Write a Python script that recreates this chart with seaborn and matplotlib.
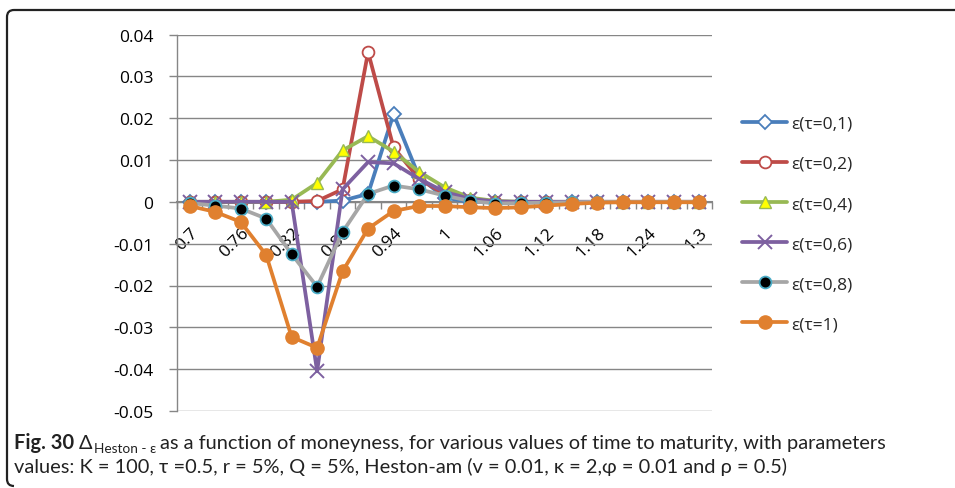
import numpy as np
import pandas as pd
import matplotlib
matplotlib.use("Agg")
import matplotlib.pyplot as plt
import seaborn as sns
from matplotlib.path import Path
from matplotlib.patches import PathPatch

# ---------------- data ----------------
moneyness = ["0.7", "0.73", "0.76", "0.79", "0.82", "0.85", "0.88", "0.91", "0.94", "0.97",
             "1", "1.03", "1.06", "1.09", "1.12", "1.15", "1.18", "1.21", "1.24", "1.27", "1.3"]
series_names = ["ε(τ=0,1)", "ε(τ=0,2)", "ε(τ=0,4)", "ε(τ=0,6)", "ε(τ=0,8)", "ε(τ=1)"]

eps_01 = [0, 0, 0, 0, 0, 0, 0.0003, 0.0019, 0.021, 0.006, 0.001, 0,
          0, 0, 0, 0, 0, 0, 0, 0, 0]
eps_02 = [0, 0, 0, 0, 0, 0.0002, 0.003, 0.0358, 0.013, 0.0055, 0.0018, 0.0004,
          0, 0, 0, 0, 0, 0, 0, 0, 0]
eps_04 = [0, 0, 0, 0, 0.0005, 0.0045, 0.0123, 0.0157, 0.012, 0.0072, 0.0035, 0.001,
          0.0002, 0, 0, 0, 0, 0, 0, 0, 0]
eps_06 = [0, 0, 0, 0, 0, -0.0405, 0.003, 0.0095, 0.0092, 0.0055, 0.0024, 0.0007,
          0.0001, 0, 0, 0, 0, 0, 0, 0, 0]
eps_08 = [-0.0003, -0.0009, -0.0016, -0.004, -0.0125, -0.0203, -0.0072, 0.0019, 0.0039, 0.003,
          0.0015, 0.0002, -0.0004, -0.0003, -0.0002, -0.0001, 0, 0, 0, 0, 0]
eps_1 = [-0.001, -0.0024, -0.0048, -0.0127, -0.0323, -0.0349, -0.0166, -0.0064, -0.0022, -0.001,
         -0.001, -0.0013, -0.0015, -0.0013, -0.0009, -0.0005, -0.0002, -0.0001, -0.0001, -0.0001, -0.0001]

y_ticks = [0.04, 0.03, 0.02, 0.01, 0, -0.01, -0.02, -0.03, -0.04, -0.05]
y_tick_labels = ["0.04", "0.03", "0.02", "0.01", "0", "-0.01", "-0.02", "-0.03", "-0.04", "-0.05"]

cap_bold = "Fig. 30"
cap_delta = "Δ"
cap_sub = "Heston - ε"
cap_rest1 = "as a function of moneyness, for various values of time to maturity, with parameters"
caption_line2 = "values: K = 100, τ =0.5, r = 5%, Q = 5%, Heston-am (v = 0.01, κ = 2,φ = 0.01 and ρ = 0.5)"

# ---------------- style ----------------
sns.set_theme(style="white")
plt.rcParams["font.family"] = ["Open Sans", "DejaVu Sans"]

GRID = "#868686"
styles = [
    dict(color="#4A7EBB", marker="D", markersize=7, markerfacecolor="white", markeredgecolor="#4A7EBB", markeredgewidth=1.3),
    dict(color="#BE4B48", marker="o", markersize=8.5, markerfacecolor="white", markeredgecolor="#BE4B48", markeredgewidth=1.3),
    dict(color="#98B954", marker="^", markersize=8.5, markerfacecolor="#FFFF00", markeredgecolor="#98B954", markeredgewidth=1.0),
    dict(color="#7D60A0", marker="x", markersize=10, markerfacecolor="#7D60A0", markeredgecolor="#7D60A0", markeredgewidth=1.4),
    dict(color="#A6A6A6", marker="o", markersize=8.5, markerfacecolor="black", markeredgecolor="#4BACC6", markeredgewidth=1.3),
    dict(color="#E0802F", marker="o", markersize=9.5, markerfacecolor="#E0802F", markeredgecolor="#E0802F", markeredgewidth=1.0),
]
all_series = [eps_01, eps_02, eps_04, eps_06, eps_08, eps_1]

fig = plt.figure(figsize=(9.55, 4.89), dpi=100)
ax = fig.add_axes([177 / 955, 1 - 412 / 489, (712 - 177) / 955, (412 - 35.5) / 489])

pos = np.arange(len(moneyness))
for name, vals, st in zip(series_names, all_series, styles):
    sns.lineplot(x=pos, y=vals, ax=ax, label=name, linewidth=2.7, zorder=3, **st)

ax.set_xlim(-0.5, len(moneyness) - 0.5)
ax.set_ylim(-0.05, 0.04)

# y axis
ax.set_yticks(y_ticks)
ax.set_yticklabels(y_tick_labels)
ax.yaxis.grid(True, color=GRID, linewidth=1.0)
ax.xaxis.grid(False)
ax.tick_params(axis="y", length=6, width=1, color=GRID, direction="out", pad=11,
               labelsize=12.5, labelcolor="black", left=True)

# x axis at y = 0
for s in ["top", "right"]:
    ax.spines[s].set_visible(False)
ax.spines["left"].set_color(GRID)
ax.spines["left"].set_linewidth(1.0)
ax.spines["bottom"].set_position(("data", 0))
ax.spines["bottom"].set_color(GRID)
ax.spines["bottom"].set_linewidth(1.5)
ax.spines["bottom"].set_zorder(2)

ax.set_xticks(pos[::2])
ax.set_xticklabels(moneyness[::2])
ax.set_xticks(np.arange(-0.5, len(moneyness), 1.0), minor=True)
ax.tick_params(axis="x", which="major", length=0, pad=16, labelsize=12.5, labelcolor="black", bottom=True)
ax.tick_params(axis="x", which="minor", length=5, width=1, color=GRID, direction="out", bottom=True)
for lbl in ax.get_xticklabels():
    lbl.set_rotation(45)
    lbl.set_ha("right")
    lbl.set_rotation_mode("anchor")
ax.set_xlabel("")
ax.set_ylabel("")
ax.patch.set_alpha(0)

# legend
handles, labels = ax.get_legend_handles_labels()
if ax.get_legend() is not None:
    ax.get_legend().remove()
fig.legend(handles, labels, loc="center left", bbox_to_anchor=(742 / 955, 1 - 225 / 489),
           frameon=False, fontsize=12.5, handlelength=2.6, handletextpad=0.25,
           labelspacing=1.38, borderaxespad=0, borderpad=0)

# border (top + left with rounded corners)
W, H = 955.0, 489.0
def fx(px): return px / W
def fy(py): return 1 - py / H
verts = [(fx(955), fy(11)), (fx(14), fy(11)), (fx(7), fy(11)), (fx(7), fy(18)),
         (fx(7), fy(480)), (fx(7), fy(487)), (fx(14), fy(487))]
codes = [Path.MOVETO, Path.LINETO, Path.CURVE3, Path.CURVE3, Path.LINETO, Path.CURVE3, Path.CURVE3]
fig.patches.append(PathPatch(Path(verts, codes), transform=fig.transFigure, fill=False,
                             edgecolor="#222222", linewidth=1.6))

# caption, built from pieces
cap_font = ["Lato", "DejaVu Sans"]
CAP_SIZE = 14.4
CAP_COLOR = "#222222"
renderer = fig.canvas.get_renderer()
y1 = fy(449)
x = 14.0
t = fig.text(fx(x), y1, cap_bold, fontsize=CAP_SIZE, family=cap_font, weight="bold", va="baseline", color=CAP_COLOR)
x = t.get_window_extent(renderer).x1 + 5
t = fig.text(fx(x), y1, cap_delta, fontsize=CAP_SIZE, family=cap_font, va="baseline", color=CAP_COLOR)
x = t.get_window_extent(renderer).x1 + 1
t = fig.text(fx(x), fy(453), cap_sub, fontsize=CAP_SIZE * 0.68, family=cap_font, va="baseline", color=CAP_COLOR)
x = t.get_window_extent(renderer).x1 + 4
fig.text(fx(x), y1, cap_rest1, fontsize=CAP_SIZE, family=cap_font, va="baseline", color=CAP_COLOR)
fig.text(fx(14), fy(473), caption_line2, fontsize=CAP_SIZE, family=cap_font, va="baseline", color=CAP_COLOR)

fig.savefig("out.png", dpi=100)
